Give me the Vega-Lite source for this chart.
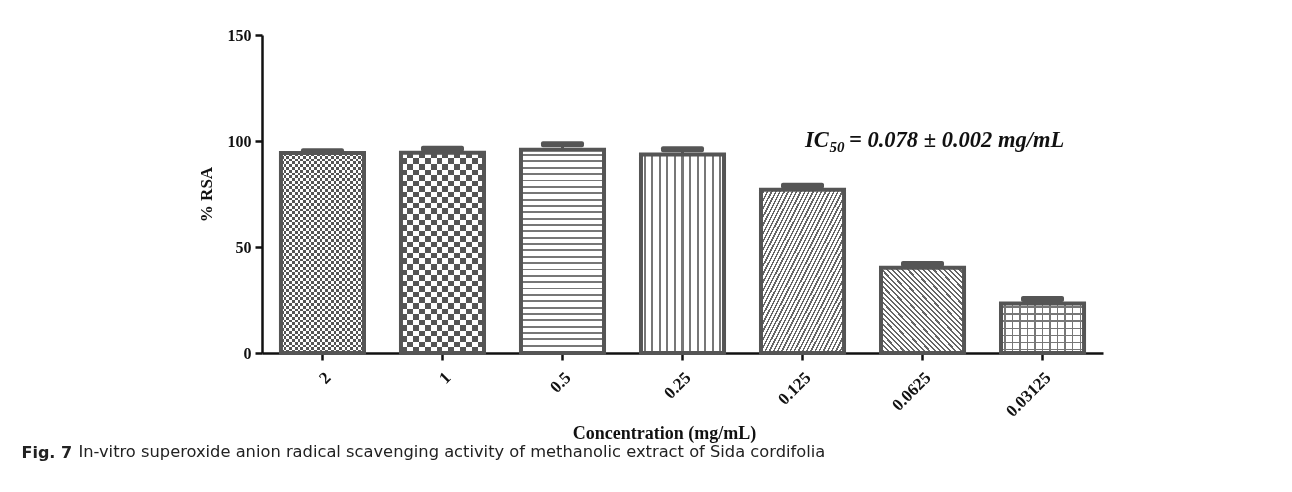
{
  "$schema": "https://vega.github.io/schema/vega-lite/v6.json",
  "width": 841,
  "height": 318,
  "autosize": {"type": "none"},
  "padding": {"left": 262, "top": 35, "right": 189, "bottom": 139},
  "background": "white",
  "config": {"view": {"stroke": null}, "font": "Liberation Serif"},
  "title": {
    "text": "Fig. 7",
    "subtitle": "\u200b\u00a0\u00a0\u00a0\u00a0\u00a0\u00a0\u00a0\u00a0\u00a0\u00a0\u00a0In-vitro superoxide anion radical scavenging activity of methanolic extract of Sida cordifolia",
    "orient": "bottom",
    "anchor": "start",
    "dx": -175.5,
    "offset": 3,
    "font": "DejaVu Sans",
    "fontSize": 16,
    "fontWeight": "bold",
    "color": "#222",
    "subtitleFont": "DejaVu Sans",
    "subtitleFontSize": 16.3,
    "subtitleFontWeight": "normal",
    "subtitleColor": "#222",
    "subtitlePadding": -17
  },
  "data": {
    "values": [
      {"conc": "2", "value": 94.3, "upper": 95.2},
      {"conc": "1", "value": 94.4, "upper": 96.3},
      {"conc": "0.5", "value": 95.9, "upper": 98.5},
      {"conc": "0.25", "value": 93.6, "upper": 96.1},
      {"conc": "0.125", "value": 77.0, "upper": 78.9},
      {"conc": "0.0625", "value": 40.2, "upper": 42.0},
      {"conc": "0.03125", "value": 23.3, "upper": 25.5}
    ]
  },
  "encoding": {
    "x": {
      "field": "conc",
      "type": "nominal",
      "sort": ["2", "1", "0.5", "0.25", "0.125", "0.0625", "0.03125"],
      "scale": {"paddingInner": 0.308, "paddingOuter": 0.158},
      "axis": {
        "title": "Concentration (mg/mL)",
        "labelAngle": -45,
        "labelFont": "Liberation Serif",
        "labelFontWeight": "bold",
        "labelFontSize": 17,
        "labelColor": "#111",
        "labelPadding": 9,
        "tickSize": 7,
        "tickWidth": 2.5,
        "tickColor": "#111",
        "domainColor": "#111",
        "domainWidth": 2.5,
        "titleFont": "Liberation Serif",
        "titleFontWeight": "bold",
        "titleFontSize": 18,
        "titleColor": "#111",
        "titlePadding": 5,
        "titleX": 402
      }
    },
    "y": {
      "field": "value",
      "type": "quantitative",
      "title": "% RSA",
      "scale": {"domain": [0, 150], "nice": false},
      "axis": {
        "values": [0, 50, 100, 150],
        "grid": false,
        "labelFont": "Liberation Serif",
        "labelFontWeight": "bold",
        "labelFontSize": 16,
        "labelColor": "#111",
        "labelPadding": 4,
        "tickSize": 7,
        "tickWidth": 2.5,
        "tickColor": "#111",
        "domainColor": "#111",
        "domainWidth": 2.5,
        "titleFont": "Liberation Serif",
        "titleFontWeight": "bold",
        "titleFontSize": 17,
        "titleColor": "#111",
        "titlePadding": 12
      }
    }
  },
  "layer": [
    {
      "transform": [{"filter": "datum.conc === '2'"}],
      "mark": {"type": "bar", "strokeWidth": 0, "fill": {"gradient": "linear", "x1": 0, "y1": 0, "x2": 0, "y2": 1, "stops": [
        {"offset": 0, "color": "#fff"},
        {"offset": 0.0139, "color": "#fff"}, {"offset": 0.0139, "color": "#000"}, {"offset": 0.0278, "color": "#000"}, {"offset": 0.0278, "color": "#fff"},
        {"offset": 0.0417, "color": "#fff"}, {"offset": 0.0417, "color": "#000"}, {"offset": 0.0556, "color": "#000"}, {"offset": 0.0556, "color": "#fff"},
        {"offset": 0.0694, "color": "#fff"}, {"offset": 0.0694, "color": "#000"}, {"offset": 0.0833, "color": "#000"}, {"offset": 0.0833, "color": "#fff"},
        {"offset": 0.0972, "color": "#fff"}, {"offset": 0.0972, "color": "#000"}, {"offset": 0.1111, "color": "#000"}, {"offset": 0.1111, "color": "#fff"},
        {"offset": 0.125, "color": "#fff"}, {"offset": 0.125, "color": "#000"}, {"offset": 0.1389, "color": "#000"}, {"offset": 0.1389, "color": "#fff"},
        {"offset": 0.1528, "color": "#fff"}, {"offset": 0.1528, "color": "#000"}, {"offset": 0.1667, "color": "#000"}, {"offset": 0.1667, "color": "#fff"},
        {"offset": 0.1806, "color": "#fff"}, {"offset": 0.1806, "color": "#000"}, {"offset": 0.1944, "color": "#000"}, {"offset": 0.1944, "color": "#fff"},
        {"offset": 0.2083, "color": "#fff"}, {"offset": 0.2083, "color": "#000"}, {"offset": 0.2222, "color": "#000"}, {"offset": 0.2222, "color": "#fff"},
        {"offset": 0.2361, "color": "#fff"}, {"offset": 0.2361, "color": "#000"}, {"offset": 0.25, "color": "#000"}, {"offset": 0.25, "color": "#fff"},
        {"offset": 0.2639, "color": "#fff"}, {"offset": 0.2639, "color": "#000"}, {"offset": 0.2778, "color": "#000"}, {"offset": 0.2778, "color": "#fff"},
        {"offset": 0.2917, "color": "#fff"}, {"offset": 0.2917, "color": "#000"}, {"offset": 0.3056, "color": "#000"}, {"offset": 0.3056, "color": "#fff"},
        {"offset": 0.3194, "color": "#fff"}, {"offset": 0.3194, "color": "#000"}, {"offset": 0.3333, "color": "#000"}, {"offset": 0.3333, "color": "#fff"},
        {"offset": 0.3472, "color": "#fff"}, {"offset": 0.3472, "color": "#000"}, {"offset": 0.3611, "color": "#000"}, {"offset": 0.3611, "color": "#fff"},
        {"offset": 0.375, "color": "#fff"}, {"offset": 0.375, "color": "#000"}, {"offset": 0.3889, "color": "#000"}, {"offset": 0.3889, "color": "#fff"},
        {"offset": 0.4028, "color": "#fff"}, {"offset": 0.4028, "color": "#000"}, {"offset": 0.4167, "color": "#000"}, {"offset": 0.4167, "color": "#fff"},
        {"offset": 0.4306, "color": "#fff"}, {"offset": 0.4306, "color": "#000"}, {"offset": 0.4444, "color": "#000"}, {"offset": 0.4444, "color": "#fff"},
        {"offset": 0.4583, "color": "#fff"}, {"offset": 0.4583, "color": "#000"}, {"offset": 0.4722, "color": "#000"}, {"offset": 0.4722, "color": "#fff"},
        {"offset": 0.4861, "color": "#fff"}, {"offset": 0.4861, "color": "#000"}, {"offset": 0.5, "color": "#000"}, {"offset": 0.5, "color": "#fff"},
        {"offset": 0.5139, "color": "#fff"}, {"offset": 0.5139, "color": "#000"}, {"offset": 0.5278, "color": "#000"}, {"offset": 0.5278, "color": "#fff"},
        {"offset": 0.5417, "color": "#fff"}, {"offset": 0.5417, "color": "#000"}, {"offset": 0.5556, "color": "#000"}, {"offset": 0.5556, "color": "#fff"},
        {"offset": 0.5694, "color": "#fff"}, {"offset": 0.5694, "color": "#000"}, {"offset": 0.5833, "color": "#000"}, {"offset": 0.5833, "color": "#fff"},
        {"offset": 0.5972, "color": "#fff"}, {"offset": 0.5972, "color": "#000"}, {"offset": 0.6111, "color": "#000"}, {"offset": 0.6111, "color": "#fff"},
        {"offset": 0.625, "color": "#fff"}, {"offset": 0.625, "color": "#000"}, {"offset": 0.6389, "color": "#000"}, {"offset": 0.6389, "color": "#fff"},
        {"offset": 0.6528, "color": "#fff"}, {"offset": 0.6528, "color": "#000"}, {"offset": 0.6667, "color": "#000"}, {"offset": 0.6667, "color": "#fff"},
        {"offset": 0.6806, "color": "#fff"}, {"offset": 0.6806, "color": "#000"}, {"offset": 0.6944, "color": "#000"}, {"offset": 0.6944, "color": "#fff"},
        {"offset": 0.7083, "color": "#fff"}, {"offset": 0.7083, "color": "#000"}, {"offset": 0.7222, "color": "#000"}, {"offset": 0.7222, "color": "#fff"},
        {"offset": 0.7361, "color": "#fff"}, {"offset": 0.7361, "color": "#000"}, {"offset": 0.75, "color": "#000"}, {"offset": 0.75, "color": "#fff"},
        {"offset": 0.7639, "color": "#fff"}, {"offset": 0.7639, "color": "#000"}, {"offset": 0.7778, "color": "#000"}, {"offset": 0.7778, "color": "#fff"},
        {"offset": 0.7917, "color": "#fff"}, {"offset": 0.7917, "color": "#000"}, {"offset": 0.8056, "color": "#000"}, {"offset": 0.8056, "color": "#fff"},
        {"offset": 0.8194, "color": "#fff"}, {"offset": 0.8194, "color": "#000"}, {"offset": 0.8333, "color": "#000"}, {"offset": 0.8333, "color": "#fff"},
        {"offset": 0.8472, "color": "#fff"}, {"offset": 0.8472, "color": "#000"}, {"offset": 0.8611, "color": "#000"}, {"offset": 0.8611, "color": "#fff"},
        {"offset": 0.875, "color": "#fff"}, {"offset": 0.875, "color": "#000"}, {"offset": 0.8889, "color": "#000"}, {"offset": 0.8889, "color": "#fff"},
        {"offset": 0.9028, "color": "#fff"}, {"offset": 0.9028, "color": "#000"}, {"offset": 0.9167, "color": "#000"}, {"offset": 0.9167, "color": "#fff"},
        {"offset": 0.9306, "color": "#fff"}, {"offset": 0.9306, "color": "#000"}, {"offset": 0.9444, "color": "#000"}, {"offset": 0.9444, "color": "#fff"},
        {"offset": 0.9583, "color": "#fff"}, {"offset": 0.9583, "color": "#000"}, {"offset": 0.9722, "color": "#000"}, {"offset": 0.9722, "color": "#fff"},
        {"offset": 0.9861, "color": "#fff"}, {"offset": 0.9861, "color": "#000"}, {"offset": 1, "color": "#000"}
      ]}}
    },
    {
      "transform": [{"filter": "datum.conc === '2'"}],
      "mark": {"type": "bar", "strokeWidth": 0, "blend": "difference", "fill": {"gradient": "linear", "x1": 0, "y1": 0, "x2": 1, "y2": 0, "stops": [
        {"offset": 0, "color": "#000"},
        {"offset": 0.0333, "color": "#000"}, {"offset": 0.0333, "color": "#fff"}, {"offset": 0.0667, "color": "#fff"}, {"offset": 0.0667, "color": "#000"},
        {"offset": 0.1, "color": "#000"}, {"offset": 0.1, "color": "#fff"}, {"offset": 0.1333, "color": "#fff"}, {"offset": 0.1333, "color": "#000"},
        {"offset": 0.1667, "color": "#000"}, {"offset": 0.1667, "color": "#fff"}, {"offset": 0.2, "color": "#fff"}, {"offset": 0.2, "color": "#000"},
        {"offset": 0.2333, "color": "#000"}, {"offset": 0.2333, "color": "#fff"}, {"offset": 0.2667, "color": "#fff"}, {"offset": 0.2667, "color": "#000"},
        {"offset": 0.3, "color": "#000"}, {"offset": 0.3, "color": "#fff"}, {"offset": 0.3333, "color": "#fff"}, {"offset": 0.3333, "color": "#000"},
        {"offset": 0.3667, "color": "#000"}, {"offset": 0.3667, "color": "#fff"}, {"offset": 0.4, "color": "#fff"}, {"offset": 0.4, "color": "#000"},
        {"offset": 0.4333, "color": "#000"}, {"offset": 0.4333, "color": "#fff"}, {"offset": 0.4667, "color": "#fff"}, {"offset": 0.4667, "color": "#000"},
        {"offset": 0.5, "color": "#000"}, {"offset": 0.5, "color": "#fff"}, {"offset": 0.5333, "color": "#fff"}, {"offset": 0.5333, "color": "#000"},
        {"offset": 0.5667, "color": "#000"}, {"offset": 0.5667, "color": "#fff"}, {"offset": 0.6, "color": "#fff"}, {"offset": 0.6, "color": "#000"},
        {"offset": 0.6333, "color": "#000"}, {"offset": 0.6333, "color": "#fff"}, {"offset": 0.6667, "color": "#fff"}, {"offset": 0.6667, "color": "#000"},
        {"offset": 0.7, "color": "#000"}, {"offset": 0.7, "color": "#fff"}, {"offset": 0.7333, "color": "#fff"}, {"offset": 0.7333, "color": "#000"},
        {"offset": 0.7667, "color": "#000"}, {"offset": 0.7667, "color": "#fff"}, {"offset": 0.8, "color": "#fff"}, {"offset": 0.8, "color": "#000"},
        {"offset": 0.8333, "color": "#000"}, {"offset": 0.8333, "color": "#fff"}, {"offset": 0.8667, "color": "#fff"}, {"offset": 0.8667, "color": "#000"},
        {"offset": 0.9, "color": "#000"}, {"offset": 0.9, "color": "#fff"}, {"offset": 0.9333, "color": "#fff"}, {"offset": 0.9333, "color": "#000"},
        {"offset": 0.9667, "color": "#000"}, {"offset": 0.9667, "color": "#fff"}, {"offset": 1, "color": "#fff"}
      ]}}
    },
    {
      "transform": [{"filter": "datum.conc === '2'"}],
      "mark": {"type": "bar", "fill": "#fff", "fillOpacity": 0.333, "stroke": "#555", "strokeWidth": 4}
    },
    {
      "transform": [{"filter": "datum.conc === '1'"}],
      "mark": {"type": "bar", "strokeWidth": 0, "fill": {"gradient": "linear", "x1": 0, "y1": 0, "x2": 0, "y2": 1, "stops": [
        {"offset": 0, "color": "#fff"}, {"offset": 0.0278, "color": "#fff"}, {"offset": 0.0278, "color": "#000"}, {"offset": 0.0556, "color": "#000"},
        {"offset": 0.0556, "color": "#fff"}, {"offset": 0.0833, "color": "#fff"}, {"offset": 0.0833, "color": "#000"}, {"offset": 0.1111, "color": "#000"},
        {"offset": 0.1111, "color": "#fff"}, {"offset": 0.1389, "color": "#fff"}, {"offset": 0.1389, "color": "#000"}, {"offset": 0.1667, "color": "#000"},
        {"offset": 0.1667, "color": "#fff"}, {"offset": 0.1944, "color": "#fff"}, {"offset": 0.1944, "color": "#000"}, {"offset": 0.2222, "color": "#000"},
        {"offset": 0.2222, "color": "#fff"}, {"offset": 0.25, "color": "#fff"}, {"offset": 0.25, "color": "#000"}, {"offset": 0.2778, "color": "#000"},
        {"offset": 0.2778, "color": "#fff"}, {"offset": 0.3056, "color": "#fff"}, {"offset": 0.3056, "color": "#000"}, {"offset": 0.3333, "color": "#000"},
        {"offset": 0.3333, "color": "#fff"}, {"offset": 0.3611, "color": "#fff"}, {"offset": 0.3611, "color": "#000"}, {"offset": 0.3889, "color": "#000"},
        {"offset": 0.3889, "color": "#fff"}, {"offset": 0.4167, "color": "#fff"}, {"offset": 0.4167, "color": "#000"}, {"offset": 0.4444, "color": "#000"},
        {"offset": 0.4444, "color": "#fff"}, {"offset": 0.4722, "color": "#fff"}, {"offset": 0.4722, "color": "#000"}, {"offset": 0.5, "color": "#000"},
        {"offset": 0.5, "color": "#fff"}, {"offset": 0.5278, "color": "#fff"}, {"offset": 0.5278, "color": "#000"}, {"offset": 0.5556, "color": "#000"},
        {"offset": 0.5556, "color": "#fff"}, {"offset": 0.5833, "color": "#fff"}, {"offset": 0.5833, "color": "#000"}, {"offset": 0.6111, "color": "#000"},
        {"offset": 0.6111, "color": "#fff"}, {"offset": 0.6389, "color": "#fff"}, {"offset": 0.6389, "color": "#000"}, {"offset": 0.6667, "color": "#000"},
        {"offset": 0.6667, "color": "#fff"}, {"offset": 0.6944, "color": "#fff"}, {"offset": 0.6944, "color": "#000"}, {"offset": 0.7222, "color": "#000"},
        {"offset": 0.7222, "color": "#fff"}, {"offset": 0.75, "color": "#fff"}, {"offset": 0.75, "color": "#000"}, {"offset": 0.7778, "color": "#000"},
        {"offset": 0.7778, "color": "#fff"}, {"offset": 0.8056, "color": "#fff"}, {"offset": 0.8056, "color": "#000"}, {"offset": 0.8333, "color": "#000"},
        {"offset": 0.8333, "color": "#fff"}, {"offset": 0.8611, "color": "#fff"}, {"offset": 0.8611, "color": "#000"}, {"offset": 0.8889, "color": "#000"},
        {"offset": 0.8889, "color": "#fff"}, {"offset": 0.9167, "color": "#fff"}, {"offset": 0.9167, "color": "#000"}, {"offset": 0.9444, "color": "#000"},
        {"offset": 0.9444, "color": "#fff"}, {"offset": 0.9722, "color": "#fff"}, {"offset": 0.9722, "color": "#000"}, {"offset": 1, "color": "#000"}
      ]}}
    },
    {
      "transform": [{"filter": "datum.conc === '1'"}],
      "mark": {"type": "bar", "strokeWidth": 0, "blend": "difference", "fill": {"gradient": "linear", "x1": 0, "y1": 0, "x2": 1, "y2": 0, "stops": [
        {"offset": 0, "color": "#000"}, {"offset": 0.0714, "color": "#000"}, {"offset": 0.0714, "color": "#fff"}, {"offset": 0.1429, "color": "#fff"},
        {"offset": 0.1429, "color": "#000"}, {"offset": 0.2143, "color": "#000"}, {"offset": 0.2143, "color": "#fff"}, {"offset": 0.2857, "color": "#fff"},
        {"offset": 0.2857, "color": "#000"}, {"offset": 0.3571, "color": "#000"}, {"offset": 0.3571, "color": "#fff"}, {"offset": 0.4286, "color": "#fff"},
        {"offset": 0.4286, "color": "#000"}, {"offset": 0.5, "color": "#000"}, {"offset": 0.5, "color": "#fff"}, {"offset": 0.5714, "color": "#fff"},
        {"offset": 0.5714, "color": "#000"}, {"offset": 0.6429, "color": "#000"}, {"offset": 0.6429, "color": "#fff"}, {"offset": 0.7143, "color": "#fff"},
        {"offset": 0.7143, "color": "#000"}, {"offset": 0.7857, "color": "#000"}, {"offset": 0.7857, "color": "#fff"}, {"offset": 0.8571, "color": "#fff"},
        {"offset": 0.8571, "color": "#000"}, {"offset": 0.9286, "color": "#000"}, {"offset": 0.9286, "color": "#fff"}, {"offset": 1, "color": "#fff"}
      ]}}
    },
    {
      "transform": [{"filter": "datum.conc === '1'"}],
      "mark": {"type": "bar", "fill": "#fff", "fillOpacity": 0.333, "stroke": "#555", "strokeWidth": 4}
    },
    {
      "transform": [{"filter": "datum.conc === '0.5'"}],
      "mark": {"type": "bar", "stroke": "#555", "strokeWidth": 4, "fill": {"gradient": "linear", "x1": 0, "y1": 0, "x2": 0, "y2": 1, "stops": [
        {"offset": 0, "color": "#fff"}, {"offset": 0.0219, "color": "#fff"}, {"offset": 0.0219, "color": "#777"}, {"offset": 0.0313, "color": "#777"},
        {"offset": 0.0313, "color": "#fff"}, {"offset": 0.0531, "color": "#fff"}, {"offset": 0.0531, "color": "#777"}, {"offset": 0.0625, "color": "#777"},
        {"offset": 0.0625, "color": "#fff"}, {"offset": 0.0844, "color": "#fff"}, {"offset": 0.0844, "color": "#777"}, {"offset": 0.0938, "color": "#777"},
        {"offset": 0.0938, "color": "#fff"}, {"offset": 0.1156, "color": "#fff"}, {"offset": 0.1156, "color": "#777"}, {"offset": 0.125, "color": "#777"},
        {"offset": 0.125, "color": "#fff"}, {"offset": 0.1469, "color": "#fff"}, {"offset": 0.1469, "color": "#777"}, {"offset": 0.1563, "color": "#777"},
        {"offset": 0.1563, "color": "#fff"}, {"offset": 0.1781, "color": "#fff"}, {"offset": 0.1781, "color": "#777"}, {"offset": 0.1875, "color": "#777"},
        {"offset": 0.1875, "color": "#fff"}, {"offset": 0.2094, "color": "#fff"}, {"offset": 0.2094, "color": "#777"}, {"offset": 0.2188, "color": "#777"},
        {"offset": 0.2188, "color": "#fff"}, {"offset": 0.2406, "color": "#fff"}, {"offset": 0.2406, "color": "#777"}, {"offset": 0.25, "color": "#777"},
        {"offset": 0.25, "color": "#fff"}, {"offset": 0.2719, "color": "#fff"}, {"offset": 0.2719, "color": "#777"}, {"offset": 0.2813, "color": "#777"},
        {"offset": 0.2813, "color": "#fff"}, {"offset": 0.3031, "color": "#fff"}, {"offset": 0.3031, "color": "#777"}, {"offset": 0.3125, "color": "#777"},
        {"offset": 0.3125, "color": "#fff"}, {"offset": 0.3344, "color": "#fff"}, {"offset": 0.3344, "color": "#777"}, {"offset": 0.3438, "color": "#777"},
        {"offset": 0.3438, "color": "#fff"}, {"offset": 0.3656, "color": "#fff"}, {"offset": 0.3656, "color": "#777"}, {"offset": 0.375, "color": "#777"},
        {"offset": 0.375, "color": "#fff"}, {"offset": 0.3969, "color": "#fff"}, {"offset": 0.3969, "color": "#777"}, {"offset": 0.4063, "color": "#777"},
        {"offset": 0.4063, "color": "#fff"}, {"offset": 0.4281, "color": "#fff"}, {"offset": 0.4281, "color": "#777"}, {"offset": 0.4375, "color": "#777"},
        {"offset": 0.4375, "color": "#fff"}, {"offset": 0.4594, "color": "#fff"}, {"offset": 0.4594, "color": "#777"}, {"offset": 0.4688, "color": "#777"},
        {"offset": 0.4688, "color": "#fff"}, {"offset": 0.4906, "color": "#fff"}, {"offset": 0.4906, "color": "#777"}, {"offset": 0.5, "color": "#777"},
        {"offset": 0.5, "color": "#fff"}, {"offset": 0.5219, "color": "#fff"}, {"offset": 0.5219, "color": "#777"}, {"offset": 0.5313, "color": "#777"},
        {"offset": 0.5313, "color": "#fff"}, {"offset": 0.5531, "color": "#fff"}, {"offset": 0.5531, "color": "#777"}, {"offset": 0.5625, "color": "#777"},
        {"offset": 0.5625, "color": "#fff"}, {"offset": 0.5844, "color": "#fff"}, {"offset": 0.5844, "color": "#777"}, {"offset": 0.5938, "color": "#777"},
        {"offset": 0.5938, "color": "#fff"}, {"offset": 0.6156, "color": "#fff"}, {"offset": 0.6156, "color": "#777"}, {"offset": 0.625, "color": "#777"},
        {"offset": 0.625, "color": "#fff"}, {"offset": 0.6469, "color": "#fff"}, {"offset": 0.6469, "color": "#777"}, {"offset": 0.6563, "color": "#777"},
        {"offset": 0.6563, "color": "#fff"}, {"offset": 0.6781, "color": "#fff"}, {"offset": 0.6781, "color": "#777"}, {"offset": 0.6875, "color": "#777"},
        {"offset": 0.6875, "color": "#fff"}, {"offset": 0.7094, "color": "#fff"}, {"offset": 0.7094, "color": "#777"}, {"offset": 0.7188, "color": "#777"},
        {"offset": 0.7188, "color": "#fff"}, {"offset": 0.7406, "color": "#fff"}, {"offset": 0.7406, "color": "#777"}, {"offset": 0.75, "color": "#777"},
        {"offset": 0.75, "color": "#fff"}, {"offset": 0.7719, "color": "#fff"}, {"offset": 0.7719, "color": "#777"}, {"offset": 0.7813, "color": "#777"},
        {"offset": 0.7813, "color": "#fff"}, {"offset": 0.8031, "color": "#fff"}, {"offset": 0.8031, "color": "#777"}, {"offset": 0.8125, "color": "#777"},
        {"offset": 0.8125, "color": "#fff"}, {"offset": 0.8344, "color": "#fff"}, {"offset": 0.8344, "color": "#777"}, {"offset": 0.8438, "color": "#777"},
        {"offset": 0.8438, "color": "#fff"}, {"offset": 0.8656, "color": "#fff"}, {"offset": 0.8656, "color": "#777"}, {"offset": 0.875, "color": "#777"},
        {"offset": 0.875, "color": "#fff"}, {"offset": 0.8969, "color": "#fff"}, {"offset": 0.8969, "color": "#777"}, {"offset": 0.9063, "color": "#777"},
        {"offset": 0.9063, "color": "#fff"}, {"offset": 0.9281, "color": "#fff"}, {"offset": 0.9281, "color": "#777"}, {"offset": 0.9375, "color": "#777"},
        {"offset": 0.9375, "color": "#fff"}, {"offset": 0.9594, "color": "#fff"}, {"offset": 0.9594, "color": "#777"}, {"offset": 0.9688, "color": "#777"},
        {"offset": 0.9688, "color": "#fff"}, {"offset": 0.9906, "color": "#fff"}, {"offset": 0.9906, "color": "#777"}, {"offset": 1, "color": "#777"}
      ]}}
    },
    {
      "transform": [{"filter": "datum.conc === '0.25'"}],
      "mark": {"type": "bar", "stroke": "#555", "strokeWidth": 4, "fill": {"gradient": "linear", "x1": 0, "y1": 0, "x2": 1, "y2": 0, "stops": [
        {"offset": 0, "color": "#fff"},
        {"offset": 0.0332, "color": "#fff"}, {"offset": 0.0332, "color": "#777"}, {"offset": 0.0577, "color": "#777"}, {"offset": 0.0577, "color": "#fff"},
        {"offset": 0.1241, "color": "#fff"}, {"offset": 0.1241, "color": "#777"}, {"offset": 0.1486, "color": "#777"}, {"offset": 0.1486, "color": "#fff"},
        {"offset": 0.215, "color": "#fff"}, {"offset": 0.215, "color": "#777"}, {"offset": 0.2395, "color": "#777"}, {"offset": 0.2395, "color": "#fff"},
        {"offset": 0.3059, "color": "#fff"}, {"offset": 0.3059, "color": "#777"}, {"offset": 0.3304, "color": "#777"}, {"offset": 0.3304, "color": "#fff"},
        {"offset": 0.3968, "color": "#fff"}, {"offset": 0.3968, "color": "#777"}, {"offset": 0.4213, "color": "#777"}, {"offset": 0.4213, "color": "#fff"},
        {"offset": 0.4877, "color": "#fff"}, {"offset": 0.4877, "color": "#777"}, {"offset": 0.5122, "color": "#777"}, {"offset": 0.5122, "color": "#fff"},
        {"offset": 0.5786, "color": "#fff"}, {"offset": 0.5786, "color": "#777"}, {"offset": 0.6031, "color": "#777"}, {"offset": 0.6031, "color": "#fff"},
        {"offset": 0.6695, "color": "#fff"}, {"offset": 0.6695, "color": "#777"}, {"offset": 0.694, "color": "#777"}, {"offset": 0.694, "color": "#fff"},
        {"offset": 0.7604, "color": "#fff"}, {"offset": 0.7604, "color": "#777"}, {"offset": 0.7849, "color": "#777"}, {"offset": 0.7849, "color": "#fff"},
        {"offset": 0.8513, "color": "#fff"}, {"offset": 0.8513, "color": "#777"}, {"offset": 0.8758, "color": "#777"}, {"offset": 0.8758, "color": "#fff"},
        {"offset": 0.9422, "color": "#fff"}, {"offset": 0.9422, "color": "#777"}, {"offset": 0.9667, "color": "#777"}, {"offset": 0.9667, "color": "#fff"},
        {"offset": 1, "color": "#fff"}
      ]}}
    },
    {
      "transform": [{"filter": "datum.conc === '0.125'"}],
      "mark": {"type": "bar", "stroke": "#555", "strokeWidth": 4, "fill": {"gradient": "linear", "x1": 0, "y1": 0, "x2": 1, "y2": 1, "stops": [
        {"offset": 0, "color": "#fff"}, {"offset": 0.015, "color": "#fff"}, {"offset": 0.015, "color": "#666"}, {"offset": 0.025, "color": "#666"},
        {"offset": 0.025, "color": "#fff"}, {"offset": 0.04, "color": "#fff"}, {"offset": 0.04, "color": "#666"}, {"offset": 0.05, "color": "#666"},
        {"offset": 0.05, "color": "#fff"}, {"offset": 0.065, "color": "#fff"}, {"offset": 0.065, "color": "#666"}, {"offset": 0.075, "color": "#666"},
        {"offset": 0.075, "color": "#fff"}, {"offset": 0.09, "color": "#fff"}, {"offset": 0.09, "color": "#666"}, {"offset": 0.1, "color": "#666"},
        {"offset": 0.1, "color": "#fff"}, {"offset": 0.115, "color": "#fff"}, {"offset": 0.115, "color": "#666"}, {"offset": 0.125, "color": "#666"},
        {"offset": 0.125, "color": "#fff"}, {"offset": 0.14, "color": "#fff"}, {"offset": 0.14, "color": "#666"}, {"offset": 0.15, "color": "#666"},
        {"offset": 0.15, "color": "#fff"}, {"offset": 0.165, "color": "#fff"}, {"offset": 0.165, "color": "#666"}, {"offset": 0.175, "color": "#666"},
        {"offset": 0.175, "color": "#fff"}, {"offset": 0.19, "color": "#fff"}, {"offset": 0.19, "color": "#666"}, {"offset": 0.2, "color": "#666"},
        {"offset": 0.2, "color": "#fff"}, {"offset": 0.215, "color": "#fff"}, {"offset": 0.215, "color": "#666"}, {"offset": 0.225, "color": "#666"},
        {"offset": 0.225, "color": "#fff"}, {"offset": 0.24, "color": "#fff"}, {"offset": 0.24, "color": "#666"}, {"offset": 0.25, "color": "#666"},
        {"offset": 0.25, "color": "#fff"}, {"offset": 0.265, "color": "#fff"}, {"offset": 0.265, "color": "#666"}, {"offset": 0.275, "color": "#666"},
        {"offset": 0.275, "color": "#fff"}, {"offset": 0.29, "color": "#fff"}, {"offset": 0.29, "color": "#666"}, {"offset": 0.3, "color": "#666"},
        {"offset": 0.3, "color": "#fff"}, {"offset": 0.315, "color": "#fff"}, {"offset": 0.315, "color": "#666"}, {"offset": 0.325, "color": "#666"},
        {"offset": 0.325, "color": "#fff"}, {"offset": 0.34, "color": "#fff"}, {"offset": 0.34, "color": "#666"}, {"offset": 0.35, "color": "#666"},
        {"offset": 0.35, "color": "#fff"}, {"offset": 0.365, "color": "#fff"}, {"offset": 0.365, "color": "#666"}, {"offset": 0.375, "color": "#666"},
        {"offset": 0.375, "color": "#fff"}, {"offset": 0.39, "color": "#fff"}, {"offset": 0.39, "color": "#666"}, {"offset": 0.4, "color": "#666"},
        {"offset": 0.4, "color": "#fff"}, {"offset": 0.415, "color": "#fff"}, {"offset": 0.415, "color": "#666"}, {"offset": 0.425, "color": "#666"},
        {"offset": 0.425, "color": "#fff"}, {"offset": 0.44, "color": "#fff"}, {"offset": 0.44, "color": "#666"}, {"offset": 0.45, "color": "#666"},
        {"offset": 0.45, "color": "#fff"}, {"offset": 0.465, "color": "#fff"}, {"offset": 0.465, "color": "#666"}, {"offset": 0.475, "color": "#666"},
        {"offset": 0.475, "color": "#fff"}, {"offset": 0.49, "color": "#fff"}, {"offset": 0.49, "color": "#666"}, {"offset": 0.5, "color": "#666"},
        {"offset": 0.5, "color": "#fff"}, {"offset": 0.515, "color": "#fff"}, {"offset": 0.515, "color": "#666"}, {"offset": 0.525, "color": "#666"},
        {"offset": 0.525, "color": "#fff"}, {"offset": 0.54, "color": "#fff"}, {"offset": 0.54, "color": "#666"}, {"offset": 0.55, "color": "#666"},
        {"offset": 0.55, "color": "#fff"}, {"offset": 0.565, "color": "#fff"}, {"offset": 0.565, "color": "#666"}, {"offset": 0.575, "color": "#666"},
        {"offset": 0.575, "color": "#fff"}, {"offset": 0.59, "color": "#fff"}, {"offset": 0.59, "color": "#666"}, {"offset": 0.6, "color": "#666"},
        {"offset": 0.6, "color": "#fff"}, {"offset": 0.615, "color": "#fff"}, {"offset": 0.615, "color": "#666"}, {"offset": 0.625, "color": "#666"},
        {"offset": 0.625, "color": "#fff"}, {"offset": 0.64, "color": "#fff"}, {"offset": 0.64, "color": "#666"}, {"offset": 0.65, "color": "#666"},
        {"offset": 0.65, "color": "#fff"}, {"offset": 0.665, "color": "#fff"}, {"offset": 0.665, "color": "#666"}, {"offset": 0.675, "color": "#666"},
        {"offset": 0.675, "color": "#fff"}, {"offset": 0.69, "color": "#fff"}, {"offset": 0.69, "color": "#666"}, {"offset": 0.7, "color": "#666"},
        {"offset": 0.7, "color": "#fff"}, {"offset": 0.715, "color": "#fff"}, {"offset": 0.715, "color": "#666"}, {"offset": 0.725, "color": "#666"},
        {"offset": 0.725, "color": "#fff"}, {"offset": 0.74, "color": "#fff"}, {"offset": 0.74, "color": "#666"}, {"offset": 0.75, "color": "#666"},
        {"offset": 0.75, "color": "#fff"}, {"offset": 0.765, "color": "#fff"}, {"offset": 0.765, "color": "#666"}, {"offset": 0.775, "color": "#666"},
        {"offset": 0.775, "color": "#fff"}, {"offset": 0.79, "color": "#fff"}, {"offset": 0.79, "color": "#666"}, {"offset": 0.8, "color": "#666"},
        {"offset": 0.8, "color": "#fff"}, {"offset": 0.815, "color": "#fff"}, {"offset": 0.815, "color": "#666"}, {"offset": 0.825, "color": "#666"},
        {"offset": 0.825, "color": "#fff"}, {"offset": 0.84, "color": "#fff"}, {"offset": 0.84, "color": "#666"}, {"offset": 0.85, "color": "#666"},
        {"offset": 0.85, "color": "#fff"}, {"offset": 0.865, "color": "#fff"}, {"offset": 0.865, "color": "#666"}, {"offset": 0.875, "color": "#666"},
        {"offset": 0.875, "color": "#fff"}, {"offset": 0.89, "color": "#fff"}, {"offset": 0.89, "color": "#666"}, {"offset": 0.9, "color": "#666"},
        {"offset": 0.9, "color": "#fff"}, {"offset": 0.915, "color": "#fff"}, {"offset": 0.915, "color": "#666"}, {"offset": 0.925, "color": "#666"},
        {"offset": 0.925, "color": "#fff"}, {"offset": 0.94, "color": "#fff"}, {"offset": 0.94, "color": "#666"}, {"offset": 0.95, "color": "#666"},
        {"offset": 0.95, "color": "#fff"}, {"offset": 0.965, "color": "#fff"}, {"offset": 0.965, "color": "#666"}, {"offset": 0.975, "color": "#666"},
        {"offset": 0.975, "color": "#fff"}, {"offset": 0.99, "color": "#fff"}, {"offset": 0.99, "color": "#666"}, {"offset": 1, "color": "#666"}
      ]}}
    },
    {
      "transform": [{"filter": "datum.conc === '0.0625'"}],
      "mark": {"type": "bar", "stroke": "#555", "strokeWidth": 4, "fill": {"gradient": "linear", "x1": 0, "y1": 1, "x2": 1, "y2": 0, "stops": [
        {"offset": 0, "color": "#fff"}, {"offset": 0.0188, "color": "#fff"}, {"offset": 0.0188, "color": "#666"}, {"offset": 0.0313, "color": "#666"},
        {"offset": 0.0313, "color": "#fff"}, {"offset": 0.05, "color": "#fff"}, {"offset": 0.05, "color": "#666"}, {"offset": 0.0625, "color": "#666"},
        {"offset": 0.0625, "color": "#fff"}, {"offset": 0.0813, "color": "#fff"}, {"offset": 0.0813, "color": "#666"}, {"offset": 0.0938, "color": "#666"},
        {"offset": 0.0938, "color": "#fff"}, {"offset": 0.1125, "color": "#fff"}, {"offset": 0.1125, "color": "#666"}, {"offset": 0.125, "color": "#666"},
        {"offset": 0.125, "color": "#fff"}, {"offset": 0.1438, "color": "#fff"}, {"offset": 0.1438, "color": "#666"}, {"offset": 0.1563, "color": "#666"},
        {"offset": 0.1563, "color": "#fff"}, {"offset": 0.175, "color": "#fff"}, {"offset": 0.175, "color": "#666"}, {"offset": 0.1875, "color": "#666"},
        {"offset": 0.1875, "color": "#fff"}, {"offset": 0.2063, "color": "#fff"}, {"offset": 0.2063, "color": "#666"}, {"offset": 0.2188, "color": "#666"},
        {"offset": 0.2188, "color": "#fff"}, {"offset": 0.2375, "color": "#fff"}, {"offset": 0.2375, "color": "#666"}, {"offset": 0.25, "color": "#666"},
        {"offset": 0.25, "color": "#fff"}, {"offset": 0.2688, "color": "#fff"}, {"offset": 0.2688, "color": "#666"}, {"offset": 0.2813, "color": "#666"},
        {"offset": 0.2813, "color": "#fff"}, {"offset": 0.3, "color": "#fff"}, {"offset": 0.3, "color": "#666"}, {"offset": 0.3125, "color": "#666"},
        {"offset": 0.3125, "color": "#fff"}, {"offset": 0.3313, "color": "#fff"}, {"offset": 0.3313, "color": "#666"}, {"offset": 0.3438, "color": "#666"},
        {"offset": 0.3438, "color": "#fff"}, {"offset": 0.3625, "color": "#fff"}, {"offset": 0.3625, "color": "#666"}, {"offset": 0.375, "color": "#666"},
        {"offset": 0.375, "color": "#fff"}, {"offset": 0.3938, "color": "#fff"}, {"offset": 0.3938, "color": "#666"}, {"offset": 0.4063, "color": "#666"},
        {"offset": 0.4063, "color": "#fff"}, {"offset": 0.425, "color": "#fff"}, {"offset": 0.425, "color": "#666"}, {"offset": 0.4375, "color": "#666"},
        {"offset": 0.4375, "color": "#fff"}, {"offset": 0.4563, "color": "#fff"}, {"offset": 0.4563, "color": "#666"}, {"offset": 0.4688, "color": "#666"},
        {"offset": 0.4688, "color": "#fff"}, {"offset": 0.4875, "color": "#fff"}, {"offset": 0.4875, "color": "#666"}, {"offset": 0.5, "color": "#666"},
        {"offset": 0.5, "color": "#fff"}, {"offset": 0.5188, "color": "#fff"}, {"offset": 0.5188, "color": "#666"}, {"offset": 0.5313, "color": "#666"},
        {"offset": 0.5313, "color": "#fff"}, {"offset": 0.55, "color": "#fff"}, {"offset": 0.55, "color": "#666"}, {"offset": 0.5625, "color": "#666"},
        {"offset": 0.5625, "color": "#fff"}, {"offset": 0.5813, "color": "#fff"}, {"offset": 0.5813, "color": "#666"}, {"offset": 0.5938, "color": "#666"},
        {"offset": 0.5938, "color": "#fff"}, {"offset": 0.6125, "color": "#fff"}, {"offset": 0.6125, "color": "#666"}, {"offset": 0.625, "color": "#666"},
        {"offset": 0.625, "color": "#fff"}, {"offset": 0.6438, "color": "#fff"}, {"offset": 0.6438, "color": "#666"}, {"offset": 0.6563, "color": "#666"},
        {"offset": 0.6563, "color": "#fff"}, {"offset": 0.675, "color": "#fff"}, {"offset": 0.675, "color": "#666"}, {"offset": 0.6875, "color": "#666"},
        {"offset": 0.6875, "color": "#fff"}, {"offset": 0.7063, "color": "#fff"}, {"offset": 0.7063, "color": "#666"}, {"offset": 0.7188, "color": "#666"},
        {"offset": 0.7188, "color": "#fff"}, {"offset": 0.7375, "color": "#fff"}, {"offset": 0.7375, "color": "#666"}, {"offset": 0.75, "color": "#666"},
        {"offset": 0.75, "color": "#fff"}, {"offset": 0.7688, "color": "#fff"}, {"offset": 0.7688, "color": "#666"}, {"offset": 0.7813, "color": "#666"},
        {"offset": 0.7813, "color": "#fff"}, {"offset": 0.8, "color": "#fff"}, {"offset": 0.8, "color": "#666"}, {"offset": 0.8125, "color": "#666"},
        {"offset": 0.8125, "color": "#fff"}, {"offset": 0.8313, "color": "#fff"}, {"offset": 0.8313, "color": "#666"}, {"offset": 0.8438, "color": "#666"},
        {"offset": 0.8438, "color": "#fff"}, {"offset": 0.8625, "color": "#fff"}, {"offset": 0.8625, "color": "#666"}, {"offset": 0.875, "color": "#666"},
        {"offset": 0.875, "color": "#fff"}, {"offset": 0.8938, "color": "#fff"}, {"offset": 0.8938, "color": "#666"}, {"offset": 0.9063, "color": "#666"},
        {"offset": 0.9063, "color": "#fff"}, {"offset": 0.925, "color": "#fff"}, {"offset": 0.925, "color": "#666"}, {"offset": 0.9375, "color": "#666"},
        {"offset": 0.9375, "color": "#fff"}, {"offset": 0.9563, "color": "#fff"}, {"offset": 0.9563, "color": "#666"}, {"offset": 0.9688, "color": "#666"},
        {"offset": 0.9688, "color": "#fff"}, {"offset": 0.9875, "color": "#fff"}, {"offset": 0.9875, "color": "#666"}, {"offset": 1, "color": "#666"}
      ]}}
    },
    {
      "transform": [{"filter": "datum.conc === '0.03125'"}],
      "mark": {"type": "bar", "strokeWidth": 0, "fill": {"gradient": "linear", "x1": 0, "y1": 0, "x2": 0, "y2": 1, "stops": [
        {"offset": 0, "color": "#fff"},
        {"offset": 0.0557, "color": "#fff"}, {"offset": 0.0557, "color": "#777"}, {"offset": 0.0871, "color": "#777"}, {"offset": 0.0871, "color": "#fff"},
        {"offset": 0.1986, "color": "#fff"}, {"offset": 0.1986, "color": "#777"}, {"offset": 0.23, "color": "#777"}, {"offset": 0.23, "color": "#fff"},
        {"offset": 0.3414, "color": "#fff"}, {"offset": 0.3414, "color": "#777"}, {"offset": 0.3728, "color": "#777"}, {"offset": 0.3728, "color": "#fff"},
        {"offset": 0.4843, "color": "#fff"}, {"offset": 0.4843, "color": "#777"}, {"offset": 0.5157, "color": "#777"}, {"offset": 0.5157, "color": "#fff"},
        {"offset": 0.6271, "color": "#fff"}, {"offset": 0.6271, "color": "#777"}, {"offset": 0.6585, "color": "#777"}, {"offset": 0.6585, "color": "#fff"},
        {"offset": 0.77, "color": "#fff"}, {"offset": 0.77, "color": "#777"}, {"offset": 0.8014, "color": "#777"}, {"offset": 0.8014, "color": "#fff"},
        {"offset": 0.9129, "color": "#fff"}, {"offset": 0.9129, "color": "#777"}, {"offset": 0.9443, "color": "#777"}, {"offset": 0.9443, "color": "#fff"},
        {"offset": 1, "color": "#fff"}
      ]}}
    },
    {
      "transform": [{"filter": "datum.conc === '0.03125'"}],
      "mark": {"type": "bar", "stroke": "#555", "strokeWidth": 4, "fill": {"gradient": "linear", "x1": 0, "y1": 0, "x2": 1, "y2": 0, "stops": [
        {"offset": 0, "color": "rgba(255,255,255,0)"},
        {"offset": 0.0364, "color": "rgba(255,255,255,0)"}, {"offset": 0.0364, "color": "#777"}, {"offset": 0.0545, "color": "#777"}, {"offset": 0.0545, "color": "rgba(255,255,255,0)"},
        {"offset": 0.1273, "color": "rgba(255,255,255,0)"}, {"offset": 0.1273, "color": "#777"}, {"offset": 0.1455, "color": "#777"}, {"offset": 0.1455, "color": "rgba(255,255,255,0)"},
        {"offset": 0.2182, "color": "rgba(255,255,255,0)"}, {"offset": 0.2182, "color": "#777"}, {"offset": 0.2364, "color": "#777"}, {"offset": 0.2364, "color": "rgba(255,255,255,0)"},
        {"offset": 0.3091, "color": "rgba(255,255,255,0)"}, {"offset": 0.3091, "color": "#777"}, {"offset": 0.3273, "color": "#777"}, {"offset": 0.3273, "color": "rgba(255,255,255,0)"},
        {"offset": 0.4, "color": "rgba(255,255,255,0)"}, {"offset": 0.4, "color": "#777"}, {"offset": 0.4182, "color": "#777"}, {"offset": 0.4182, "color": "rgba(255,255,255,0)"},
        {"offset": 0.4909, "color": "rgba(255,255,255,0)"}, {"offset": 0.4909, "color": "#777"}, {"offset": 0.5091, "color": "#777"}, {"offset": 0.5091, "color": "rgba(255,255,255,0)"},
        {"offset": 0.5818, "color": "rgba(255,255,255,0)"}, {"offset": 0.5818, "color": "#777"}, {"offset": 0.6, "color": "#777"}, {"offset": 0.6, "color": "rgba(255,255,255,0)"},
        {"offset": 0.6727, "color": "rgba(255,255,255,0)"}, {"offset": 0.6727, "color": "#777"}, {"offset": 0.6909, "color": "#777"}, {"offset": 0.6909, "color": "rgba(255,255,255,0)"},
        {"offset": 0.7636, "color": "rgba(255,255,255,0)"}, {"offset": 0.7636, "color": "#777"}, {"offset": 0.7818, "color": "#777"}, {"offset": 0.7818, "color": "rgba(255,255,255,0)"},
        {"offset": 0.8545, "color": "rgba(255,255,255,0)"}, {"offset": 0.8545, "color": "#777"}, {"offset": 0.8727, "color": "#777"}, {"offset": 0.8727, "color": "rgba(255,255,255,0)"},
        {"offset": 0.9455, "color": "rgba(255,255,255,0)"}, {"offset": 0.9455, "color": "#777"}, {"offset": 0.9636, "color": "#777"}, {"offset": 0.9636, "color": "rgba(255,255,255,0)"},
        {"offset": 1, "color": "rgba(255,255,255,0)"}
      ]}}
    },
    {
      "mark": {"type": "rule", "stroke": "#555", "strokeWidth": 3},
      "encoding": {
        "y": {"field": "value", "type": "quantitative", "title": "% RSA"},
        "y2": {"field": "upper"}
      }
    },
    {
      "mark": {"type": "tick", "orient": "horizontal", "color": "#555", "opacity": 1, "thickness": 6, "size": 43, "cornerRadius": 2},
      "encoding": {
        "y": {"field": "upper", "type": "quantitative", "title": "% RSA"}
      }
    },
    {
      "transform": [{"filter": "datum.conc === '0.0625'"}],
      "mark": {"type": "text", "text": "IC", "font": "Liberation Serif", "fontStyle": "italic", "fontWeight": "bold", "fontSize": 22.5, "align": "left", "baseline": "alphabetic", "dx": -117.5, "dy": 6, "fill": "#111"},
      "encoding": {"y": {"datum": 100}}
    },
    {
      "transform": [{"filter": "datum.conc === '0.0625'"}],
      "mark": {"type": "text", "text": "50", "font": "Liberation Serif", "fontStyle": "italic", "fontWeight": "bold", "fontSize": 15, "align": "left", "baseline": "alphabetic", "dx": -93, "dy": 11, "fill": "#111"},
      "encoding": {"y": {"datum": 100}}
    },
    {
      "transform": [{"filter": "datum.conc === '0.0625'"}],
      "mark": {"type": "text", "text": "= 0.078 ± 0.002 mg/mL", "font": "Liberation Serif", "fontStyle": "italic", "fontWeight": "bold", "fontSize": 22.5, "align": "left", "baseline": "alphabetic", "dx": -73.5, "dy": 6, "fill": "#111"},
      "encoding": {"y": {"datum": 100}}
    }
  ]
}
